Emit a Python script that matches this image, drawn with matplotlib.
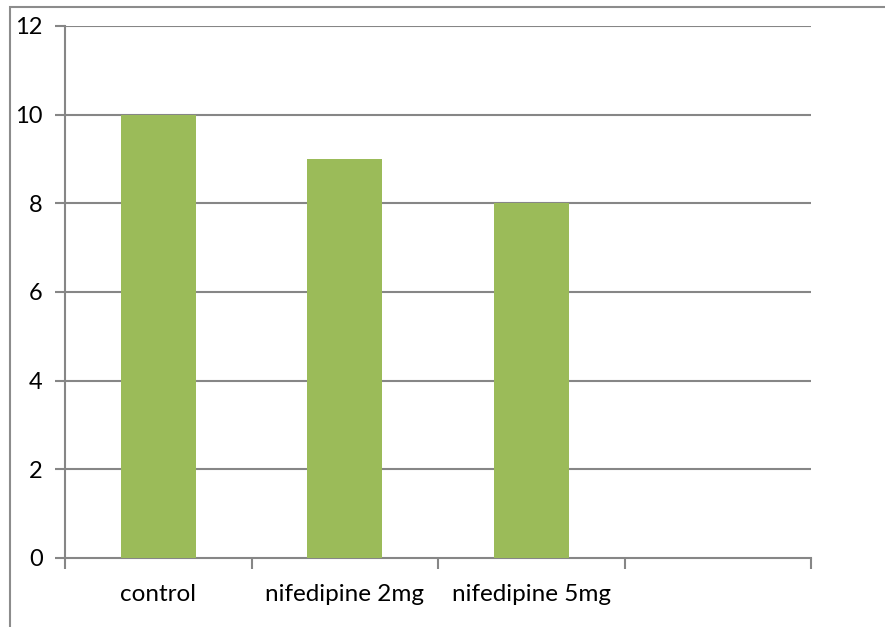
import matplotlib
matplotlib.use("Agg")
import matplotlib.pyplot as plt
from matplotlib.patches import Rectangle

categories = ["control", "nifedipine 2mg", "nifedipine 5mg", ""]
values = [10, 9, 8, None]
yticks = [0, 2, 4, 6, 8, 10, 12]

W, H = 885, 627
fig = plt.figure(figsize=(W / 100, H / 100), dpi=100)
plt.rcParams['font.family'] = ['Lato', 'DejaVu Sans']

left, right, top, bottom = 65, 811, 26, 558
ax = fig.add_axes([left / W, 1 - bottom / H, (right - left) / W, (bottom - top) / H])

grid_c = "#868686"
xs = [i for i, v in enumerate(values) if v is not None]
vs = [v for v in values if v is not None]
ax.bar(xs, vs, width=0.4, color="#9BBB59", zorder=3)

ax.set_xlim(-0.5, len(categories) - 0.5)
ax.set_ylim(0, 12)
ax.set_yticks(yticks)
ax.set_yticklabels([str(t) for t in yticks], fontsize=17)
ax.set_xticks(range(len(categories)))
ax.set_xticklabels(categories, fontsize=17.5)
ax.set_xticks([i - 0.5 for i in range(len(categories) + 1)], minor=True)

ax.tick_params(axis='x', which='major', length=0, pad=19)
ax.tick_params(axis='x', which='minor', length=8, width=1.5, color=grid_c)
ax.tick_params(axis='y', length=7, width=1.5, color=grid_c, pad=9)

for t in yticks[1:]:
    ax.axhline(t, color=grid_c, lw=1.5, zorder=1)

for s in ['top', 'right']:
    ax.spines[s].set_visible(False)
ax.spines['left'].set_color(grid_c)
ax.spines['left'].set_linewidth(1.5)
ax.spines['bottom'].set_color(grid_c)
ax.spines['bottom'].set_linewidth(1.5)

# outer chart border
fig.patches.append(Rectangle((10 / W, -0.1), 1.2, 1 - 7 / H + 0.1, transform=fig.transFigure,
                             fill=False, edgecolor="#8c8c8c", lw=1.5))

fig.savefig("out.png", dpi=100)
